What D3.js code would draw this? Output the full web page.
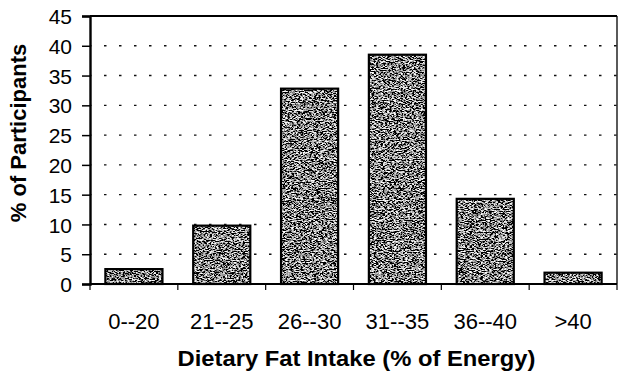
<!DOCTYPE html>
<html>
<head>
<meta charset="utf-8">
<script src="https://cdn.jsdelivr.net/npm/d3@7"></script>
<style>
  body { margin: 0; background: #fff; }
  svg { display: block; font-family: "Liberation Sans", Arial, sans-serif; }
</style>
</head>
<body>
<div id="chart"></div>
<script>
// data
const categories = ["0--20", "21--25", "26--30", "31--35", "36--40", ">40"];
const values = [2.5, 9.8, 32.8, 38.5, 14.3, 1.9];
const yTicks = [0, 5, 10, 15, 20, 25, 30, 35, 40, 45];
const gridValues = [5, 10, 15, 20, 25, 30, 35, 40];

const W = 628, H = 384;
const margin = { top: 16, right: 11, bottom: 100, left: 90 };
const width = W - margin.left - margin.right;
const height = H - margin.top - margin.bottom;

const svg = d3.select("#chart").append("svg")
    .attr("width", W).attr("height", H);

// speckled grey fill for the bars (scanned look)
const defs = svg.append("defs");
const filt = defs.append("filter").attr("id", "grain")
    .attr("x", 0).attr("y", 0).attr("width", 1).attr("height", 1);
filt.append("feTurbulence").attr("type", "fractalNoise")
    .attr("baseFrequency", "0.45 1.1").attr("numOctaves", 3).attr("seed", 7).attr("result", "noise");
filt.append("feColorMatrix").attr("in", "noise").attr("type", "matrix")
    .attr("values", "3.6 0 0 0 -1.55  3.6 0 0 0 -1.55  3.6 0 0 0 -1.55  0 0 0 0 1")
    .attr("result", "speckle");
filt.append("feComposite").attr("in", "speckle").attr("in2", "SourceGraphic").attr("operator", "in");

const g = svg.append("g").attr("transform", `translate(${margin.left},${margin.top})`);

const x = d3.scaleBand().domain(categories).range([0, width])
    .paddingInner(0.35).paddingOuter(0.175);
const y = d3.scaleLinear().domain([0, 45]).range([height, 0]);

// dotted gridlines
g.selectAll(".grid").data(gridValues).enter().append("line")
    .attr("x1", 0).attr("x2", width)
    .attr("y1", d => y(d)).attr("y2", d => y(d))
    .attr("stroke", "#111").attr("stroke-width", 1.4)
    .attr("stroke-dasharray", "2.5,12.5").attr("stroke-dashoffset", -14);

// frame top/right
g.append("line").attr("x1", 0).attr("x2", width).attr("y1", 0).attr("y2", 0)
    .attr("stroke", "#000").attr("stroke-width", 2);
g.append("line").attr("x1", width).attr("x2", width).attr("y1", 0).attr("y2", height)
    .attr("stroke", "#000").attr("stroke-width", 1.3);

// bars
g.selectAll(".bar").data(values).enter().append("rect")
    .attr("class", "bar")
    .attr("x", (d, i) => x(categories[i]))
    .attr("width", x.bandwidth())
    .attr("y", d => y(d))
    .attr("height", d => height - y(d))
    .attr("fill", "#888")
    .attr("filter", "url(#grain)");
g.selectAll(".bar-edge").data(values).enter().append("rect")
    .attr("x", (d, i) => x(categories[i]))
    .attr("width", x.bandwidth())
    .attr("y", d => y(d))
    .attr("height", d => height - y(d))
    .attr("fill", "none").attr("stroke", "#000").attr("stroke-width", 2.2);

// y axis
const yAxis = g.append("g")
    .call(d3.axisLeft(y).tickValues(yTicks).tickSize(8).tickPadding(4));
yAxis.select(".domain").attr("stroke-width", 2.4);
yAxis.selectAll(".tick line").attr("stroke-width", 1.5);
yAxis.selectAll(".tick text")
    .attr("font-size", 21).attr("font-family", "Liberation Sans, Arial, sans-serif")
    .attr("fill", "#000").attr("dx", -6).attr("dy", "0.36em");

// x axis: baseline with ticks between categories
const step = x.step();
const bounds = categories.map(c => x(c) - step * 0.175).concat([width]);
g.append("line").attr("x1", 0).attr("x2", width).attr("y1", height).attr("y2", height)
    .attr("stroke", "#000").attr("stroke-width", 2.2);
g.selectAll(".xtick").data(bounds).enter().append("line")
    .attr("x1", d => d).attr("x2", d => d)
    .attr("y1", height).attr("y2", height + 6)
    .attr("stroke", "#000").attr("stroke-width", 1.2);
g.selectAll(".xlabel").data(categories).enter().append("text")
    .attr("x", d => x(d) + x.bandwidth() / 2)
    .attr("y", height + 45)
    .attr("text-anchor", "middle")
    .attr("font-size", 22)
    .text(d => d);

// axis titles
svg.append("text")
    .attr("x", margin.left + width / 2 + 3)
    .attr("y", 366)
    .attr("text-anchor", "middle")
    .attr("font-size", 22).attr("font-weight", 700)
    .attr("textLength", 358).attr("lengthAdjust", "spacingAndGlyphs")
    .text("Dietary Fat Intake (% of Energy)");

svg.append("text")
    .attr("transform", "translate(26,133) rotate(-90)")
    .attr("text-anchor", "middle")
    .attr("font-size", 22).attr("font-weight", 700)
    .text("% of Participants");
</script>
</body>
</html>
